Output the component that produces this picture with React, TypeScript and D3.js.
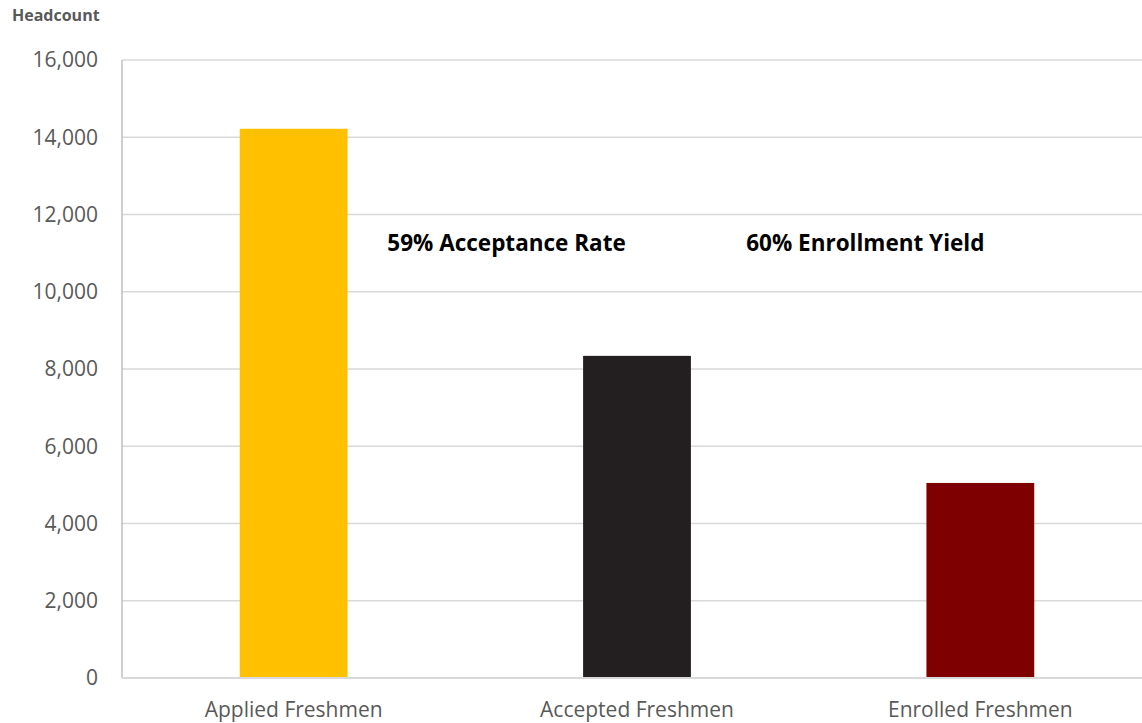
import React, { useEffect, useRef } from 'react'
import * as d3 from 'd3'

const categories = ['Applied Freshmen', 'Accepted Freshmen', 'Enrolled Freshmen']
const headcounts = [14220, 8340, 5050]
const barColors = ['#ffc000', '#231f20', '#7f0000']
const yTicks = [0, 2000, 4000, 6000, 8000, 10000, 12000, 14000, 16000]
// position is in category units (0 = centre of first bar)
const notes = [
  { text: '59% Acceptance Rate', position: 0.62, value: 11050 },
  { text: '60% Enrollment Yield', position: 1.665, value: 11050 },
]

const FONT = "'Open Sans', 'Noto Sans', sans-serif"

const App = () => {
  const ref = useRef<SVGSVGElement>(null)

  useEffect(() => {
    draw()
  })

  const draw = () => {
    const W = 1142
    const H = 723
    const left = 122
    const top = 60
    const bottom = 678
    const right = 1152

    const svg = d3.select(ref.current)
    svg.selectAll('*').remove()
    svg.attr('width', W).attr('height', H)

    const x = d3.scaleBand().domain(categories).range([left, right]).paddingInner(0.686).paddingOuter(0.343)
    const y = d3.scaleLinear().domain([0, 16000]).range([bottom, top])
    const center = (i: number) => (x(categories[i]) as number) + x.bandwidth() / 2
    const xi = d3.scaleLinear().domain([0, 1]).range([center(0), center(1)])

    // gridlines
    svg
      .append('g')
      .selectAll('line')
      .data(yTicks.filter((t) => t > 0))
      .enter()
      .append('line')
      .attr('x1', left)
      .attr('x2', W)
      .attr('y1', (d) => y(d))
      .attr('y2', (d) => y(d))
      .attr('stroke', '#d9d9d9')
      .attr('stroke-width', 1.5)

    // y labels
    svg
      .append('g')
      .selectAll('text')
      .data(yTicks)
      .enter()
      .append('text')
      .attr('x', 98)
      .attr('y', (d) => y(d))
      .attr('dy', '0.35em')
      .attr('text-anchor', 'end')
      .attr('font-family', FONT)
      .attr('font-size', 21)
      .attr('fill', '#595959')
      .text((d) => d3.format(',')(d))

    // bars
    svg
      .append('g')
      .selectAll('rect')
      .data(headcounts)
      .enter()
      .append('rect')
      .attr('x', (d, i) => x(categories[i]) as number)
      .attr('y', (d) => y(d))
      .attr('width', x.bandwidth())
      .attr('height', (d) => y(0) - y(d))
      .attr('fill', (d, i) => barColors[i])

    // axes lines
    svg
      .append('line')
      .attr('x1', left)
      .attr('x2', left)
      .attr('y1', top)
      .attr('y2', bottom)
      .attr('stroke', '#bfbfbf')
      .attr('stroke-width', 1.5)
    svg
      .append('line')
      .attr('x1', left)
      .attr('x2', W)
      .attr('y1', bottom)
      .attr('y2', bottom)
      .attr('stroke', '#d9d9d9')
      .attr('stroke-width', 2)

    // category labels
    svg
      .append('g')
      .selectAll('text')
      .data(categories)
      .enter()
      .append('text')
      .attr('x', (d, i) => center(i))
      .attr('y', 717)
      .attr('text-anchor', 'middle')
      .attr('font-family', FONT)
      .attr('font-size', 21)
      .attr('fill', '#595959')
      .text((d) => d)

    // annotations
    svg
      .append('g')
      .selectAll('text')
      .data(notes)
      .enter()
      .append('text')
      .attr('x', (d) => xi(d.position))
      .attr('y', (d) => y(d.value))
      .attr('text-anchor', 'middle')
      .attr('font-family', FONT)
      .attr('font-weight', 'bold')
      .attr('font-size', 22.5)
      .attr('fill', '#000')
      .text((d) => d.text)

    svg
      .append('text')
      .attr('x', 12)
      .attr('y', 21)
      .attr('font-family', FONT)
      .attr('font-weight', 'bold')
      .attr('font-size', 16)
      .attr('fill', '#595959')
      .text('Headcount')
  }

  return <svg ref={ref} style={{ position: 'absolute', left: 0, top: 0, display: 'block' }} />
}

export default App
